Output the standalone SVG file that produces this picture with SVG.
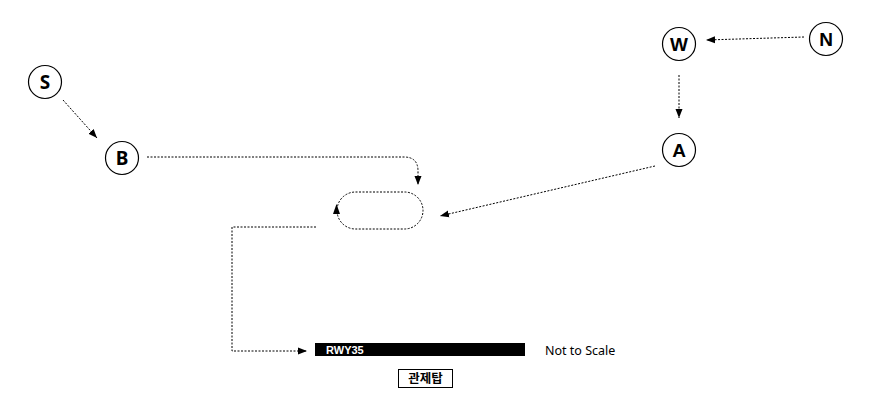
<svg xmlns="http://www.w3.org/2000/svg" width="872" height="408" viewBox="0 0 872 408">
<style>
.node circle{fill:#fff;stroke:#000;stroke-width:1.2}
.lbl{font-family:"Liberation Sans",Arial,sans-serif;font-weight:bold;font-size:19px;text-anchor:middle;fill:#000}
.lbl2{font-family:"Noto Sans","Noto Sans CJK KR",sans-serif;font-weight:bold;font-size:19px;text-anchor:middle;fill:#000}
.con{fill:none;stroke:#000;stroke-width:1;stroke-dasharray:2,1.5}
</style>
<defs>
<marker id="ah" markerUnits="userSpaceOnUse" markerWidth="10" markerHeight="10" viewBox="0 0 10 10" refX="9" refY="5" orient="auto">
<path d="M0,1.5 L9,5 L0,8.5 Z" fill="#000"/>
</marker>
</defs>
<rect width="872" height="408" fill="#fff"/>
<g id="connectors">
<line class="con" x1="63" y1="100" x2="97" y2="138" marker-end="url(#ah)"/>
<path class="con" d="M147,157 L404,157 Q418,157 418,171 L418,185" marker-end="url(#ah)"/>
<line class="con" x1="804" y1="37" x2="706" y2="40" marker-end="url(#ah)"/>
<line class="con" x1="679" y1="75" x2="679" y2="118" marker-end="url(#ah)"/>
<line class="con" x1="655" y1="166" x2="440" y2="216" marker-end="url(#ah)"/>
<path class="con" d="M316,227 L232,227 L232,351 L307,351" marker-end="url(#ah)"/>
</g>
<g id="loop">
<rect class="con" x="337" y="192" width="86" height="37" rx="18.5" ry="18.5"/>
<path d="M333,214 L336.5,204 L340,214 Z" fill="#000"/>
</g>
<g id="S" class="node"><circle cx="45" cy="82" r="16.5"/><text class="lbl2" x="45" y="89">S</text></g>
<g id="B" class="node"><circle cx="122" cy="158" r="16.5"/><text class="lbl2" x="122" y="165">B</text></g>
<g id="W" class="node"><circle cx="679" cy="44" r="16.5"/><text class="lbl" x="679" y="51">W</text></g>
<g id="N" class="node"><circle cx="826" cy="39" r="16.5"/><text class="lbl" x="826" y="46">N</text></g>
<g id="A" class="node"><circle cx="679" cy="150" r="16.5"/><text class="lbl" x="679" y="157">A</text></g>
<g id="runway">
<rect x="315" y="343" width="210" height="13" fill="#000"/>
<text x="326" y="354" font-family="'Liberation Sans',Arial,sans-serif" font-weight="bold" font-size="11" fill="#fff">RWY35</text>
</g>
<text id="scale" x="545" y="355" font-family="'Noto Sans','Noto Sans CJK KR',sans-serif" font-size="12.5" fill="#000">Not to Scale</text>
<g id="tower">
<rect x="398.5" y="369.5" width="54" height="18" fill="#fff" stroke="#000" stroke-width="1"/>
<text x="425.5" y="383" text-anchor="middle" font-family="'Noto Sans CJK KR',sans-serif" font-weight="bold" font-size="12.5" fill="#000">관제탑</text>
</g>
</svg>
